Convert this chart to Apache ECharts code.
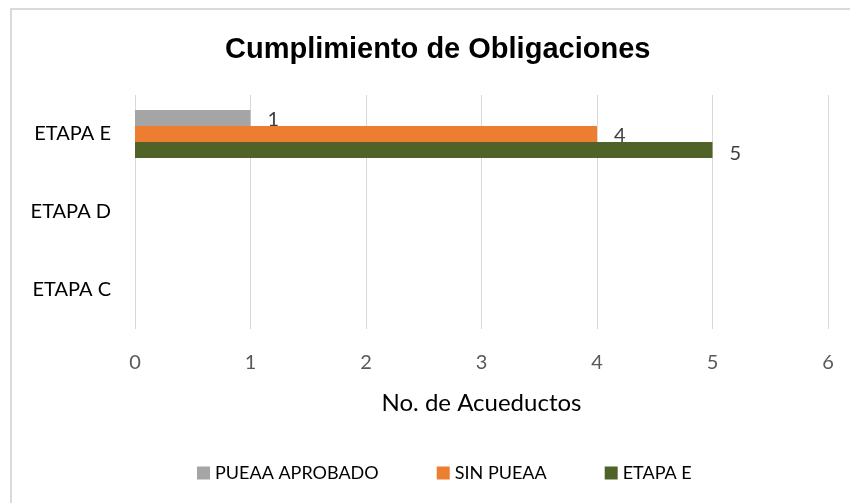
<!DOCTYPE html>
<html>
<head>
<meta charset="utf-8">
<script src="https://cdn.jsdelivr.net/npm/echarts@6/dist/echarts.min.js"></script>
<style>
  html, body { margin: 0; padding: 0; background: #fff; }
  #chart { width: 850px; height: 503px; }
</style>
</head>
<body>
<div id="chart"></div>
<script>
// ──── 数据 ────
const categories = ['ETAPA C', 'ETAPA D', 'ETAPA E'];
const pueaaAprobado = [null, null, 1];
const sinPueaa = [null, null, 4];
const etapaE = [null, null, 5];
const xTicks = [0, 1, 2, 3, 4, 5, 6];

const FONT = 'Lato, "Liberation Sans", sans-serif';

function barSeries(name, data, color, dy) {
    return {
        name,
        type: 'bar',
        data,
        barWidth: 16,
        barGap: '0%',
        itemStyle: { color },
        label: {
            show: true,
            position: 'right',
            distance: 17,
            offset: [0, dy],
            color: '#404040',
            fontFamily: FONT,
            fontSize: 20,
        },
    };
}

const chart = echarts.init(document.getElementById('chart'), null, { renderer: 'canvas' });
chart.setOption({
    animation: false,
    backgroundColor: '#fff',
    title: {
        text: 'Cumplimiento de Obligaciones',
        left: 220,
        top: 30,
        textStyle: {
            fontFamily: '"Liberation Sans", Arial, sans-serif',
            fontWeight: 'bold',
            fontSize: 29,
            color: '#000',
        },
    },
    graphic: [{
        type: 'rect',
        shape: { x: 11, y: 9, width: 900, height: 600 },
        style: { fill: 'none', stroke: '#d9d9d9', lineWidth: 2 },
        silent: true,
    }],
    grid: { left: 135, right: 22, top: 95, bottom: 174, containLabel: false },
    legend: {
        left: 192,
        top: 459,
        itemWidth: 13,
        itemHeight: 13,
        itemGap: 58,
        icon: 'rect',
        textStyle: { fontFamily: FONT, fontSize: 18, color: '#000' },
        data: ['PUEAA APROBADO', 'SIN PUEAA', 'ETAPA E'],
    },
    xAxis: {
        type: 'value',
        min: xTicks[0],
        max: xTicks[xTicks.length - 1],
        interval: 1,
        name: 'No. de Acueductos',
        nameLocation: 'middle',
        nameGap: 62,
        nameTextStyle: { fontFamily: FONT, fontSize: 24, color: '#000' },
        axisLine: { show: false },
        axisTick: { show: false },
        axisLabel: { margin: 24, fontFamily: FONT, fontSize: 20, color: '#595959' },
        splitLine: { show: true, lineStyle: { color: '#d9d9d9', width: 1 } },
    },
    yAxis: {
        type: 'category',
        data: categories,
        axisLine: { show: false },
        axisTick: { show: false },
        axisLabel: { margin: 24, fontFamily: FONT, fontSize: 20, color: '#000' },
    },
    series: [
        barSeries('PUEAA APROBADO', pueaaAprobado, '#a5a5a5', 2),
        barSeries('SIN PUEAA', sinPueaa, '#ed7d31', 2),
        barSeries('ETAPA E', etapaE, '#4f6228', 4),
    ],
});
</script>
</body>
</html>
